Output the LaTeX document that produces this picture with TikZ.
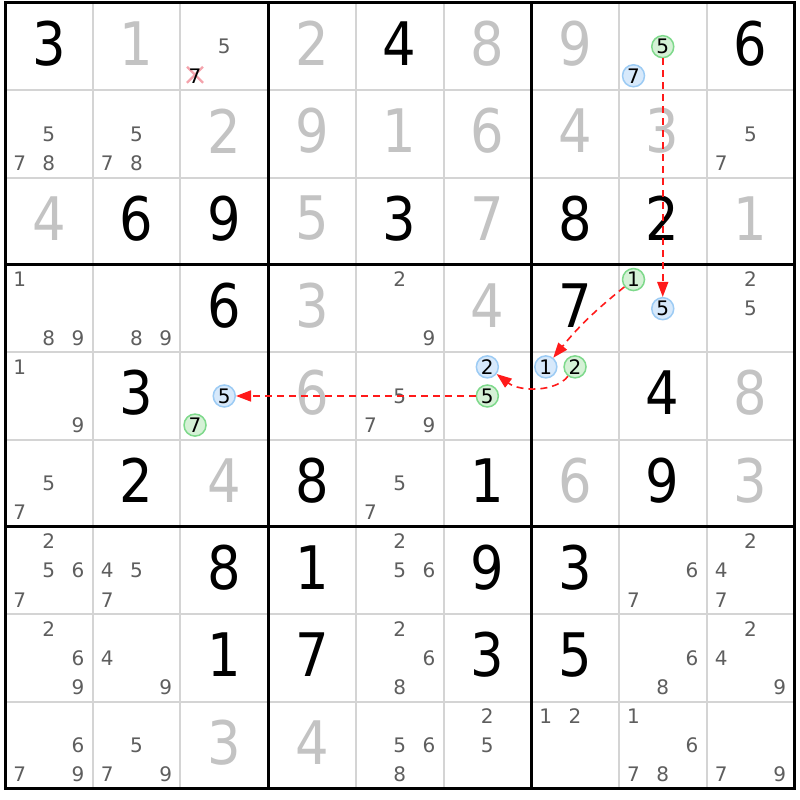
\documentclass[tikz,border=0pt]{standalone}
\usepackage{fontspec}
\setmainfont{DejaVu Sans}
\newfontfamily\bigdigitfont[FakeStretch=0.88]{DejaVu Sans}
\usetikzlibrary{arrows.meta}
\definecolor{solvedcol}{HTML}{C3C3C3}
\definecolor{candcol}{HTML}{5E5E5E}
\definecolor{thincol}{HTML}{D4D4D4}
\definecolor{bluefill}{HTML}{D7E9FB}
\definecolor{blueline}{HTML}{9CCBF4}
\definecolor{greenfill}{HTML}{D5F1D6}
\definecolor{greenline}{HTML}{7ED98B}
\definecolor{arrowred}{HTML}{FF1A1A}
\definecolor{crosscol}{HTML}{F4A3AC}

\def\CW{87.7}\def\CH{87.33}\def\XO{5}\def\YO{3}

\tikzset{
  bigdigit/.style={inner sep=0pt, font=\bigdigitfont\fontsize{60}{60}\selectfont},
  givendigit/.style={bigdigit, text=black},
  solveddigit/.style={bigdigit, text=solvedcol},
  candtxt/.style={inner sep=0pt, text=candcol, font=\fontsize{20}{20}\selectfont},
  elimtxt/.style={inner sep=0pt, text=black, font=\fontsize{20}{20}\selectfont},
  hlblue/.style={circle, draw=blueline, fill=bluefill, line width=1.5pt, minimum size=22pt, inner sep=0pt, text=black, font=\fontsize{20}{20}\selectfont},
  hlgreen/.style={circle, draw=greenline, fill=greenfill, line width=1.5pt, minimum size=22pt, inner sep=0pt, text=black, font=\fontsize{20}{20}\selectfont},
  chainarrow/.style={draw=arrowred, line width=1.6pt, dash pattern=on 7pt off 5pt, -{Triangle[length=15pt,width=11pt,fill=arrowred]}},
  thinline/.style={draw=thincol, line width=2pt},
  thickline/.style={draw=black, line width=3pt},
  crossmark/.style={draw=crosscol, line width=2.2pt},
}

% given digit
\newcommand\gvn[3]{\node[givendigit] (g#1#2) at ({\XO+\CW*(#2-0.5)},{\YO+\CH*(#1-0.5)-3}) {#3};}
% solved (grey) digit
\newcommand\slv[3]{\node[solveddigit] (s#1#2) at ({\XO+\CW*(#2-0.5)},{\YO+\CH*(#1-0.5)-3}) {#3};}
% candidate
\newcommand\cnd[4][candtxt]{%
  \pgfmathtruncatemacro\kk{mod(#4-1,3)}%
  \pgfmathtruncatemacro\mm{(#4-1)/3}%
  \node[#1] (c#2#3#4) at ({\XO+\CW*(#3-1)+\CW*(2*\kk+1)/6},{\YO+\CH*(#2-1)+\CH*(2*\mm+1)/6}) {#4};}
\newcommand\cnds[3]{\foreach \canddig in {#3}{\cnd{#1}{#2}{\canddig}}}
% highlighted candidate
\newcommand\hlc[4]{%
  \pgfmathtruncatemacro\kk{mod(#3-1,3)}%
  \pgfmathtruncatemacro\mm{(#3-1)/3}%
  \node[#4] (h#1#2#3) at ({\XO+\CW*(#2-1)+\CW*(2*\kk+1)/6},{\YO+\CH*(#1-1)+\CH*(2*\mm+1)/6}) {#3};}

\begin{document}
\begin{tikzpicture}[x=1pt,y=-1pt]
\useasboundingbox (0,0) rectangle (800,800);
\fill[white] (0,0) rectangle (800,800);

% thin grid lines
\foreach \i in {1,2,4,5,7,8}{
  \draw[thinline] ({\XO+\CW*\i},\YO) -- ({\XO+\CW*\i},{\YO+9*\CH});
  \draw[thinline] (\XO,{\YO+\CH*\i}) -- ({\XO+9*\CW},{\YO+\CH*\i});
}
% thick grid lines
\foreach \i in {3,6}{
  \draw[thickline] ({\XO+\CW*\i},\YO) -- ({\XO+\CW*\i},{\YO+9*\CH});
  \draw[thickline] (\XO,{\YO+\CH*\i}) -- ({\XO+9*\CW},{\YO+\CH*\i});
}
\draw[thickline] (\XO,\YO) rectangle ({\XO+9*\CW},{\YO+9*\CH});

% row 1
\gvn{1}{1}{3} \slv{1}{2}{1}
\cnd{1}{3}{5}
\draw[crossmark] ({\XO+\CW*2+\CW/6-8},{\YO+\CH*5/6-9}) -- ({\XO+\CW*2+\CW/6+8},{\YO+\CH*5/6+7});
\draw[crossmark] ({\XO+\CW*2+\CW/6+8},{\YO+\CH*5/6-9}) -- ({\XO+\CW*2+\CW/6-8},{\YO+\CH*5/6+7});
\cnd[elimtxt]{1}{3}{7}
\slv{1}{4}{2} \gvn{1}{5}{4} \slv{1}{6}{8} \slv{1}{7}{9}
\hlc{1}{8}{5}{hlgreen} \hlc{1}{8}{7}{hlblue}
\gvn{1}{9}{6}

% row 2
\cnds{2}{1}{5,7,8} \cnds{2}{2}{5,7,8}
\slv{2}{3}{2} \slv{2}{4}{9} \slv{2}{5}{1} \slv{2}{6}{6} \slv{2}{7}{4} \slv{2}{8}{3}
\cnds{2}{9}{5,7}

% row 3
\slv{3}{1}{4} \gvn{3}{2}{6} \gvn{3}{3}{9} \slv{3}{4}{5} \gvn{3}{5}{3} \slv{3}{6}{7}
\gvn{3}{7}{8} \gvn{3}{8}{2} \slv{3}{9}{1}

% row 4
\cnds{4}{1}{1,8,9} \cnds{4}{2}{8,9} \gvn{4}{3}{6} \slv{4}{4}{3} \cnds{4}{5}{2,9}
\slv{4}{6}{4} \gvn{4}{7}{7}
\hlc{4}{8}{1}{hlgreen} \hlc{4}{8}{5}{hlblue}
\cnds{4}{9}{2,5}

% row 5
\cnds{5}{1}{1,9} \gvn{5}{2}{3}
\hlc{5}{3}{5}{hlblue} \hlc{5}{3}{7}{hlgreen}
\slv{5}{4}{6} \cnds{5}{5}{5,7,9}
\hlc{5}{6}{2}{hlblue} \hlc{5}{6}{5}{hlgreen}
\hlc{5}{7}{1}{hlblue} \hlc{5}{7}{2}{hlgreen}
\gvn{5}{8}{4} \slv{5}{9}{8}

% row 6
\cnds{6}{1}{5,7} \gvn{6}{2}{2} \slv{6}{3}{4} \gvn{6}{4}{8} \cnds{6}{5}{5,7}
\gvn{6}{6}{1} \slv{6}{7}{6} \gvn{6}{8}{9} \slv{6}{9}{3}

% row 7
\cnds{7}{1}{2,5,6,7} \cnds{7}{2}{4,5,7} \gvn{7}{3}{8} \gvn{7}{4}{1} \cnds{7}{5}{2,5,6}
\gvn{7}{6}{9} \gvn{7}{7}{3} \cnds{7}{8}{6,7} \cnds{7}{9}{2,4,7}

% row 8
\cnds{8}{1}{2,6,9} \cnds{8}{2}{4,9} \gvn{8}{3}{1} \gvn{8}{4}{7} \cnds{8}{5}{2,6,8}
\gvn{8}{6}{3} \gvn{8}{7}{5} \cnds{8}{8}{6,8} \cnds{8}{9}{2,4,9}

% row 9
\cnds{9}{1}{6,7,9} \cnds{9}{2}{5,7,9} \slv{9}{3}{3} \slv{9}{4}{4} \cnds{9}{5}{5,6,8}
\cnds{9}{6}{2,5} \cnds{9}{7}{1,2} \cnds{9}{8}{1,6,7,8} \cnds{9}{9}{7,9}

% chain arrows
\draw[chainarrow] (h185) -- (h485);
\draw[chainarrow] (h481) to[bend right=6] (h571);
\draw[chainarrow] (h572) .. controls (556,392) and (520,392) .. (h562);
\draw[chainarrow] (h565) -- (h535);
\end{tikzpicture}
\end{document}
